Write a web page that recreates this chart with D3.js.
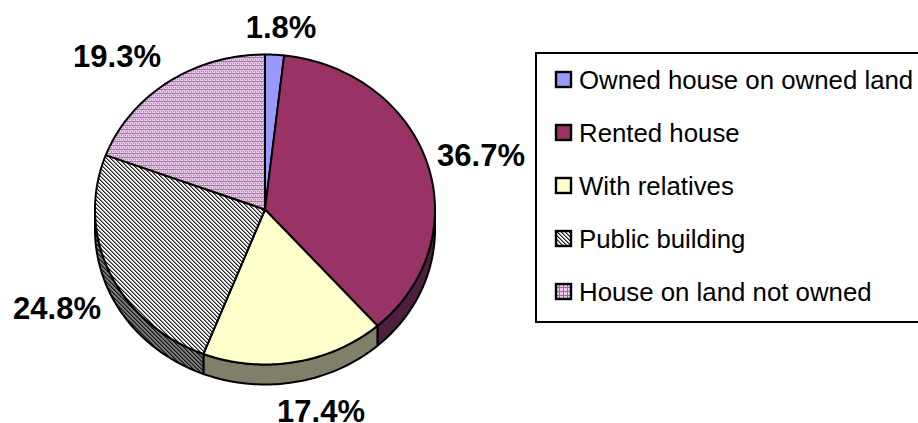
<!DOCTYPE html>
<html>
<head>
<meta charset="utf-8">
<style>
html, body { margin: 0; padding: 0; background: #fff; overflow: hidden; }
svg { display: block; }
text { font-family: "Liberation Sans", Arial, sans-serif; fill: #000; }
</style>
<script src="https://cdn.jsdelivr.net/npm/d3@7"></script>
</head>
<body>
<svg id="chart" width="918" height="423"></svg>
<script>
const categories = ['Owned house on owned land', 'Rented house', 'With relatives', 'Public building', 'House on land not owned'];
const values = [1.8, 36.7, 17.4, 24.8, 19.3];
const topFills = ['#9999ff', '#993366', '#ffffcc', 'url(#publicTop)', 'url(#landTop)'];
const wallFills = ['#4d4d80', '#4d1f3f', '#80806a', 'url(#publicWall)', '#66406a'];
const legendFills = ['#9999ff', '#993366', '#ffffcc', 'url(#publicTop)', 'url(#landLegend)'];

const cx = 265, cy = 209.5, rx = 170, ry = 155, depth = 20;

const svg = d3.select('#chart');
const defs = svg.append('defs');

// pixel patterns from the old chart renderer, cells are [x, y, colour]
function pixelPattern(id, size, bg, cells) {
    const p = defs.append('pattern').attr('id', id)
        .attr('patternUnits', 'userSpaceOnUse')
        .attr('width', size).attr('height', size);
    p.append('rect').attr('width', size).attr('height', size).attr('fill', bg);
    p.selectAll('rect.c').data(cells).enter().append('rect')
        .attr('class', 'c')
        .attr('x', d => d[0]).attr('y', d => d[1])
        .attr('width', 1).attr('height', 1)
        .attr('fill', d => d[2]);
}
function diagonal(dark, mid) {
    return [[0, 0, dark], [1, 1, dark], [2, 2, dark], [3, 3, dark],
            [1, 0, mid], [2, 1, mid], [3, 2, mid], [0, 3, mid]];
}
pixelPattern('publicTop', 4, '#f4f4f4', diagonal('#222222', '#8a8a8a'));
pixelPattern('publicWall', 4, '#7a7a7a', diagonal('#1a1a1a', '#444444'));
pixelPattern('landTop', 4, '#e6cce6', [[0, 1, '#a870a8'], [1, 1, '#a870a8'], [2, 1, '#a870a8'], [3, 1, '#a870a8'], [1, 3, '#b585b5'], [3, 3, '#b585b5'], [3, 0, '#c8a0c8'], [1, 2, '#c8a0c8']]);
pixelPattern('landLegend', 4, '#e8cce8', [[0, 3, '#a066a0'], [1, 3, '#a066a0'], [2, 3, '#a066a0'], [3, 3, '#a066a0'], [3, 0, '#a066a0'], [3, 1, '#a066a0'], [3, 2, '#a066a0']]);

const pie = d3.pie().sort(null).value(d => d);
const arcs = pie(values);

const px = a => cx + rx * Math.sin(a);
const py = a => cy - ry * Math.cos(a);

const line = d3.line();
function sweep(a0, a1) {
    return d3.range(0, 61).map(i => a0 + (a1 - a0) * i / 60);
}
// top face of a slice on the tilted ellipse
function slicePath(a0, a1) {
    return line([[cx, cy]].concat(sweep(a0, a1).map(a => [px(a), py(a)]))) + 'Z';
}
// outer wall of a slice, only the part that faces the viewer
function wallPath(a0, a1) {
    const steps = sweep(a0, a1);
    const top = steps.map(a => [px(a), py(a)]);
    const bottom = steps.slice().reverse().map(a => [px(a), py(a) + depth]);
    return line(top.concat(bottom)) + 'Z';
}

const walls = svg.append('g');
arcs.forEach((d, i) => {
    const a0 = Math.max(d.startAngle, Math.PI / 2);
    const a1 = Math.min(d.endAngle, Math.PI * 1.5);
    if (a1 <= a0) return;
    walls.append('path')
        .attr('d', wallPath(a0, a1))
        .attr('fill', wallFills[i])
        .attr('stroke', '#000')
        .attr('stroke-width', 2)
        .attr('stroke-linejoin', 'round');
});

svg.append('g')
    .selectAll('path')
    .data(arcs)
    .enter()
    .append('path')
    .attr('d', d => slicePath(d.startAngle, d.endAngle))
    .attr('fill', (d, i) => topFills[i])
    .attr('stroke', '#000')
    .attr('stroke-width', 2)
    .attr('stroke-linejoin', 'round');

// data labels
const labelPos = [[281, 37.5], [481, 166], [321, 421.5], [57, 319], [117, 66.5]];
svg.append('g')
    .selectAll('text')
    .data(values)
    .enter()
    .append('text')
    .attr('x', (d, i) => labelPos[i][0])
    .attr('y', (d, i) => labelPos[i][1])
    .attr('text-anchor', 'middle')
    .attr('font-size', 31)
    .attr('font-weight', 'bold')
    .text(d => d.toFixed(1) + '%');

// legend
const legendY = d3.scalePoint().domain(categories).range([80, 292]);
const legend = svg.append('g');
legend.append('rect')
    .attr('x', 536).attr('y', 53)
    .attr('width', 400).attr('height', 269)
    .attr('fill', '#fff')
    .attr('stroke', '#000')
    .attr('stroke-width', 2);

const rows = legend.selectAll('g.row')
    .data(categories)
    .enter()
    .append('g')
    .attr('class', 'row')
    .attr('transform', d => `translate(0,${legendY(d)})`);
rows.append('rect')
    .attr('x', 556).attr('y', -8)
    .attr('width', 15).attr('height', 15)
    .attr('fill', (d, i) => legendFills[i])
    .attr('stroke', '#000')
    .attr('stroke-width', 2.4);
rows.append('text')
    .attr('x', 579).attr('y', 9)
    .attr('font-size', 25.8)
    .text(d => d);
</script>
</body>
</html>
